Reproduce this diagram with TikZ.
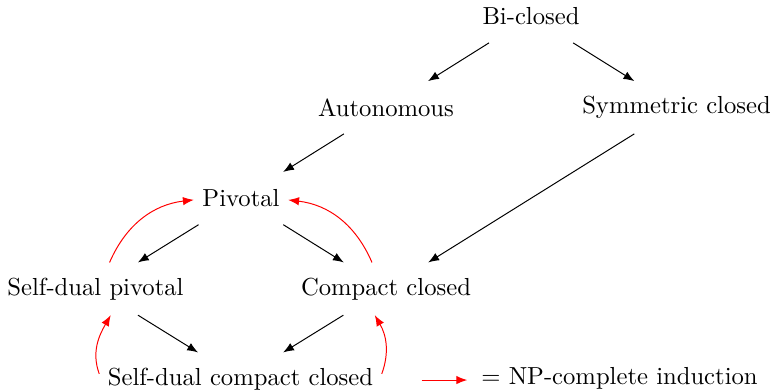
\documentclass[tikz,border=0pt]{standalone}
\usetikzlibrary{arrows.meta}
\tikzset{
  cat/.style={minimum height=21pt, inner xsep=3.33pt},
  imp/.style={-{Latex[length=4.4pt,width=3.4pt]}, black, line width=0.4pt},
  np/.style={-{Latex[length=4.4pt,width=3.4pt]}, red, line width=0.4pt},
}
\begin{document}
\begin{tikzpicture}[x=0.4057pt, y=0.4057pt]
\useasboundingbox (0,0) rectangle (775,-391);
\node[cat] (bi)   at (531,-16.5)  {Bi-closed};
\node[cat] (aut)  at (386,-107.5) {Autonomous};
\node[cat] (sym)  at (676.5,-107.5) {Symmetric closed};
\node[cat] (piv)  at (241,-198.3) {Pivotal};
\node[cat] (sdp)  at (95.5,-288.8) {Self-dual pivotal};
\node[cat] (cc)   at (386,-288.8) {Compact closed};
\node[cat] (sdcc) at (240.5,-378.8) {Self-dual compact closed};
\node[cat] (leg)  at (619.5,-378.8) {$=$ NP-complete induction};
\coordinate (lstart) at ([xshift=-20.7pt,yshift=-0.5pt]leg.west);
\coordinate (lend) at ([xshift=-2.2pt,yshift=-0.5pt]leg.west);

\draw[imp] (bi) -- (aut);
\draw[imp] (bi) -- (sym);
\draw[imp] (aut) -- (piv);
\draw[imp] (sym) -- (cc);
\draw[imp] (piv) -- (sdp);
\draw[imp] (piv) -- (cc);
\draw[imp] (sdp) -- (sdcc);
\draw[imp] (cc) -- (sdcc);

\draw[np] (sdp) to[bend left=30] (piv);
\draw[np] (cc) to[bend right=30] (piv);
\draw[np] (sdcc.178) to[out=110, in=-120] (sdp.-60);
\draw[np] (sdcc.2) to[out=70, in=-60] (cc.-113);
\draw[np] (lstart) -- (lend);
\end{tikzpicture}
\end{document}
